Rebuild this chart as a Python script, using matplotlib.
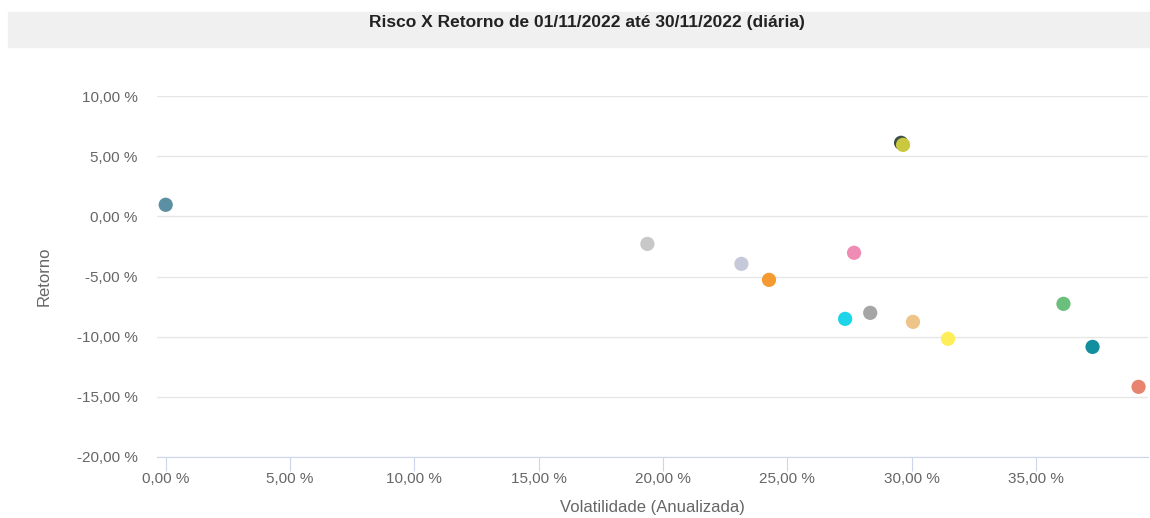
import matplotlib.pyplot as plt
from matplotlib.patches import Rectangle
from matplotlib.ticker import FuncFormatter

plt.rcParams['font.family'] = ['Liberation Sans', 'DejaVu Sans']

# volatilidade anualizada (%) x retorno (%)
volatilidade = [0.0, 29.57, 29.65, 19.37, 23.15, 24.26, 27.68, 27.32, 28.33, 30.05, 31.46, 36.10, 37.27, 39.12]
retorno = [0.96, 6.11, 5.94, -2.29, -3.95, -5.28, -3.03, -8.52, -8.02, -8.77, -10.18, -7.27, -10.85, -14.17]
cores = ["#5b8fa3", "#3d5048", "#c9c83e", "#c8c8c8", "#c6c9d9", "#f49a30", "#ee8cb5",
         "#1dd5e8", "#a5a5a5", "#eec488", "#fdee5a", "#6abf7d", "#128f9e", "#e8836f"]

x_ticks = [0, 5, 10, 15, 20, 25, 30, 35]
y_ticks = [-20, -15, -10, -5, 0, 5, 10]

W, H = 1150, 518
fig = plt.figure(figsize=(W / 100, H / 100), dpi=100)
fig.patches.append(Rectangle((8 / W, 1 - 47 / H), 1 - 8 / W, 35 / H,
                             transform=fig.transFigure, color="#f0f0f0", zorder=0))
fig.text(587 / W, 1 - 23 / H, "Risco X Retorno de 01/11/2022 até 30/11/2022 (diária)",
         ha="center", va="center", fontsize=12.5, fontweight="bold", color="#222222")

ax = fig.add_axes([157 / W, 1 - 457 / H, (1148 - 157) / W, (457 - 96) / H])
ax.scatter(volatilidade, retorno, s=105, c=cores, linewidths=0, zorder=3)

ax.set_xlim(-0.35, 39.5)
ax.set_ylim(-20, 10)
ax.set_xticks(x_ticks)
ax.set_yticks(y_ticks)
fmt = FuncFormatter(lambda v, p: f"{v:.2f}".replace(".", ",") + " %")
ax.xaxis.set_major_formatter(fmt)
ax.yaxis.set_major_formatter(fmt)

ax.grid(axis="y", color="#e6e6e6", linewidth=1)
ax.set_axisbelow(True)
for s in ["top", "right", "left"]:
    ax.spines[s].set_visible(False)
ax.spines["bottom"].set_color("#ccd6eb")
ax.tick_params(axis="y", length=0, pad=14, labelsize=11, labelcolor="#666666")
ax.tick_params(axis="x", length=10, color="#ccd6eb", pad=1, labelsize=11, labelcolor="#666666")

ax.set_xlabel("Volatilidade (Anualizada)", fontsize=12, color="#666666", labelpad=10)
ax.set_ylabel("Retorno", fontsize=12, color="#666666", labelpad=18)

fig.savefig("out.png", dpi=100)
